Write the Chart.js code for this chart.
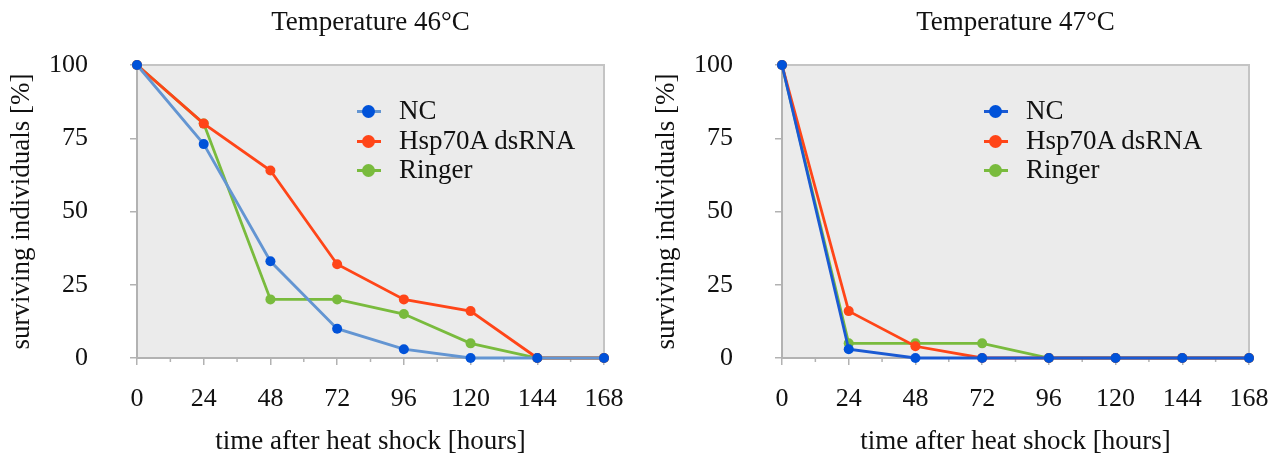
<!DOCTYPE html>
<html>
<head>
<meta charset="utf-8">
<script src="https://cdn.jsdelivr.net/npm/chart.js@4.4.1/dist/chart.umd.min.js"></script>
<style>
  html, body { margin: 0; padding: 0; background: #fff; width: 1279px; height: 464px; overflow: hidden; }
  .wrap { position: absolute; top: 0; height: 464px; }
  #w1 { left: 0; width: 640px; }
  #w2 { left: 645px; width: 634px; }
  canvas { display: block; }
  .legend { position: absolute; font-family: "Liberation Serif", "Times New Roman", serif; font-size: 27px; color: #111; }
  .row { position: absolute; left: 0; height: 30px; white-space: nowrap; }
  .mk { position: absolute; left: 0; top: 14px; width: 24px; height: 3px; }
  .dot { position: absolute; left: 5px; top: 9px; width: 13px; height: 13px; border-radius: 50%; }
  .lbl { position: absolute; left: 42px; top: -1px; line-height: 30px; }
</style>
</head>
<body>
<div class="wrap" id="w1"><canvas id="c1" width="640" height="464"></canvas><div class="legend" id="lg1"></div></div>
<div class="wrap" id="w2"><canvas id="c2" width="634" height="464"></canvas><div class="legend" id="lg2"></div></div>
<script>
// ---- data ----
const hours = [0, 24, 48, 72, 96, 120, 144, 168];
const seriesNames = ["NC", "Hsp70A dsRNA", "Ringer"];
const nc46 = [100, 73, 33, 10, 3, 0, 0, 0];
const hsp46 = [100, 80, 64, 32, 20, 16, 0, 0];
const ringer46 = [100, 80, 20, 20, 15, 5, 0, 0];
const nc47 = [100, 3, 0, 0, 0, 0, 0, 0];
const hsp47 = [100, 16, 4, 0, 0, 0, 0, 0];
const ringer47 = [100, 5, 5, 5, 0, 0, 0, 0];
const yTicks = [0, 25, 50, 75, 100];
const titles = ["Temperature 46\u00B0C", "Temperature 47\u00B0C"];

const FONT = "'Liberation Serif', 'Times New Roman', serif";
const BLUE_PT = "#0052d9";
const RED = "#ff4518";
const GREEN = "#79bb3d";

function pts(vals) { return hours.map((h, i) => ({ x: h, y: vals[i] })); }

const framePlugin = {
  id: 'frame',
  beforeDatasetsDraw(chart) {
    const { ctx, chartArea: a } = chart;
    ctx.save();
    ctx.fillStyle = '#ebebeb';
    ctx.fillRect(a.left, a.top, a.right - a.left, a.bottom - a.top);
    ctx.lineWidth = 2;
    ctx.strokeStyle = '#c4c4c4';
    ctx.beginPath();
    ctx.moveTo(a.left, a.top); ctx.lineTo(a.right, a.top); ctx.lineTo(a.right, a.bottom);
    ctx.stroke();
    ctx.strokeStyle = '#b2b2b2';
    ctx.beginPath();
    ctx.moveTo(a.left, a.top); ctx.lineTo(a.left, a.bottom); ctx.lineTo(a.right, a.bottom);
    ctx.stroke();
    // minor ticks on x axis
    const xs = chart.scales.x;
    ctx.lineWidth = 1.5;
    ctx.strokeStyle = '#b2b2b2';
    for (let h = 12; h < 168; h += 24) {
      const px = xs.getPixelForValue(h);
      ctx.beginPath(); ctx.moveTo(px, a.bottom); ctx.lineTo(px, a.bottom + 4); ctx.stroke();
    }
    ctx.restore();
  }
};

function makeChart(id, title, ncVals, hspVals, ringerVals, ncLine) {
  const ds = (label, vals, line, pt) => ({
    label, data: pts(vals), borderColor: line, backgroundColor: pt,
    pointBackgroundColor: pt, pointBorderColor: pt, pointRadius: 5, pointBorderWidth: 0,
    borderWidth: 2.8, tension: 0, clip: false
  });
  return new Chart(document.getElementById(id), {
    type: 'line',
    data: {
      datasets: [
        ds(seriesNames[0], ncVals, ncLine, BLUE_PT),
        ds(seriesNames[1], hspVals, RED, RED),
        ds(seriesNames[2], ringerVals, GREEN, GREEN)
      ]
    },
    options: {
      responsive: false, animation: false, devicePixelRatio: 1,
      layout: { padding: { left: 0, right: id === 'c1' ? 36 : 30, top: 7, bottom: 0 } },
      plugins: {
        legend: { display: false }, tooltip: { enabled: false },
        title: { display: true, fullSize: false, text: title, color: '#111', font: { family: FONT, size: 27, weight: 'normal' }, padding: { top: 0, bottom: 25.6 } }
      },
      scales: {
        x: {
          type: 'linear', min: 0, max: 168,
          afterFit(s) { s.height = 106; s.paddingLeft = 0; s.paddingRight = 0; },
          ticks: { stepSize: 24, color: '#111', font: { family: FONT, size: 26 }, padding: 19, maxRotation: 0, autoSkip: false },
          grid: { drawOnChartArea: false, drawTicks: true, tickLength: 7, color: '#b2b2b2', lineWidth: 1.5 },
          border: { display: false },
          title: { display: true, text: 'time after heat shock [hours]', color: '#111', font: { family: FONT, size: 27 }, padding: { top: 0, bottom: 6 } }
        },
        y: {
          min: 0, max: 100,
          afterFit(s) { s.width = 137; },
          afterBuildTicks(s) { s.ticks = yTicks.map(v => ({ value: v })); },
          ticks: { color: '#111', font: { family: FONT, size: 26 }, padding: 42 },
          grid: { drawOnChartArea: false, drawTicks: true, tickLength: 7, color: '#b2b2b2', lineWidth: 1.5 },
          border: { display: false },
          title: { display: true, text: 'surviving individuals [%]', color: '#111', font: { family: FONT, size: 27 }, padding: { top: 6, bottom: 0 } }
        }
      }
    },
    plugins: [framePlugin]
  });
}

const ch1 = makeChart('c1', titles[0], nc46, hsp46, ringer46, '#6395d2');
const ch2 = makeChart('c2', titles[1], nc47, hsp47, ringer47, '#1a5ad3');

function buildLegend(id, lineColors, leftPx) {
  const el = document.getElementById(id);
  el.style.left = leftPx + 'px';
  el.style.top = '96px';
  const ptColors = [BLUE_PT, RED, GREEN];
  seriesNames.forEach((n, i) => {
    const r = document.createElement('div');
    r.className = 'row';
    r.style.top = (i * 29.5) + 'px';
    r.innerHTML = '<div class="mk" style="background:' + lineColors[i] + '"></div>' +
      '<div class="dot" style="background:' + ptColors[i] + '"></div>' +
      '<div class="lbl">' + n + '</div>';
    el.appendChild(r);
  });
}
buildLegend('lg1', ['#6395d2', RED, GREEN], 357);
buildLegend('lg2', ['#1a5ad3', RED, GREEN], 984 - 645);
</script>
</body>
</html>
